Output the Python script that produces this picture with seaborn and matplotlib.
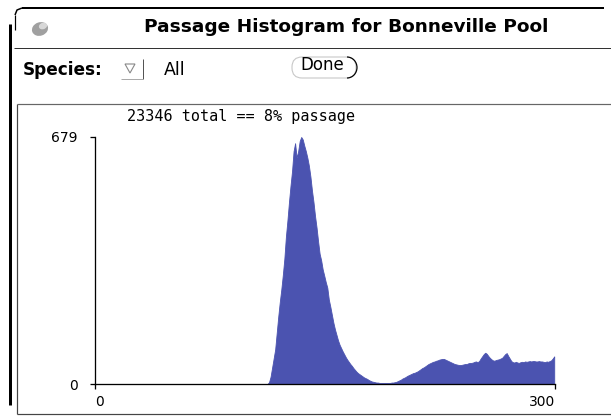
import numpy as np
import pandas as pd
import matplotlib
matplotlib.use("Agg")
import matplotlib.pyplot as plt
import seaborn as sns
from matplotlib.patches import FancyBboxPatch, Ellipse, Arc, Polygon

# ---- data -------------------------------------------------------------
TITLE = "Passage Histogram for Bonneville Pool"
SPECIES_LABEL = "Species:"
SPECIES = "All"
TOTAL_FISH = 23346
PASSAGE_PCT = 8
X_TICKS = [0, 300]
Y_TICKS = [0, 679]

# fish counts per day-bin (0..299); nothing passes before bin 113
EMPTY_BINS = [0] * 113
RUN_COUNTS = [
    5, 20, 45, 70, 95, 140, 185, 225, 260, 300,          # 113-122
    345, 405, 450, 500, 545, 585, 640, 662, 622, 640,    # 123-132
    668, 679, 672, 655, 640, 622, 600, 570, 532, 500,    # 133-142
    462, 430, 392, 358, 340, 315, 298, 280, 265, 232,    # 143-152
    212, 190, 168, 150, 135, 120, 108, 99, 90, 82,       # 153-162
    74, 67, 61, 55, 50, 44, 39, 34, 30, 27,              # 163-172
    24, 21, 18, 16, 14, 11, 9, 7, 6, 5,                  # 173-182
    4, 4, 3, 3, 3, 3, 3, 3, 3, 3,                        # 183-192
    4, 4, 5, 6, 8, 10, 12, 15, 17, 19,                   # 193-202
    22, 24, 26, 28, 30, 31, 33, 35, 38, 41,              # 203-212
    44, 46, 49, 52, 55, 57, 59, 61, 62, 64,              # 213-222
    65, 67, 68, 69, 69, 67, 65, 63, 61, 59,              # 223-232
    57, 55, 54, 53, 52, 52, 53, 54, 55, 55,              # 233-242
    57, 58, 58, 59, 61, 62, 60, 63, 70, 76,              # 243-252
    82, 86, 83, 77, 72, 68, 65, 64, 66, 67,              # 253-262
    68, 70, 72, 77, 82, 85, 77, 70, 63, 60,              # 263-272
    59, 61, 59, 58, 60, 61, 60, 62, 61, 62,              # 273-282
    63, 62, 63, 63, 62, 62, 63, 62, 62, 61,              # 283-292
    60, 62, 61, 63, 65, 70, 76,                          # 293-299
]
PASSAGE_COUNTS = EMPTY_BINS + RUN_COUNTS

BAR_COLOR = "#4b53b0"

# ---- figure -----------------------------------------------------------
sns.set_theme(style="ticks")
plt.rcParams["font.family"] = ["DejaVu Sans"]

W, H = 611, 417
PX = 72 / 100  # points per pixel at 100 dpi
fig = plt.figure(figsize=(W / 100, H / 100), dpi=100)
fig.patch.set_facecolor("white")

# window frame drawn in pixel coordinates
bg = fig.add_axes([0, 0, 1, 1], zorder=0)
bg.set_xlim(0, W)
bg.set_ylim(H, 0)
bg.axis("off")

def seg(xs, ys, color="black", lw=1.0):
    bg.plot(xs, ys, color=color, lw=lw * PX, solid_capstyle="butt")

seg([22, 604], [8, 8], lw=2)
seg([22, 17, 15], [8, 10, 15], lw=1.5)
seg([14.5, 14.5], [15, 30], lw=1.2)
seg([10, 10], [24, 405], lw=3)
seg([14, 611], [47.5, 47.5], color="#333333", lw=1)
seg([16.5, 16.5], [104, 413.5], color="#444444", lw=1.2)
seg([16.5, 611], [104, 104], color="#666666", lw=1.2)
seg([16.5, 611], [413.5, 413.5], color="#444444", lw=1.2)

# window menu icon
bg.add_patch(Ellipse((40, 29), 15, 12, angle=-20, color="#a0a0a0"))
bg.add_patch(Ellipse((43, 26), 7, 5, angle=-20, color="#d8d8d8"))

bg.text(346, 27, TITLE, ha="center", va="center", fontsize=13.3,
        fontweight="bold", color="black")

# species selector row
bg.text(23, 70, SPECIES_LABEL, ha="left", va="center", fontsize=12.2,
        fontweight="bold", color="black")
bg.add_patch(Polygon([[125, 64], [135, 64], [130, 73]], closed=True,
                     fill=False, edgecolor="#888888", lw=0.8))
seg([143, 143], [59, 79], color="#555555", lw=1)
seg([121, 143], [79, 79], color="#aaaaaa", lw=1)
bg.text(164, 70, SPECIES, ha="left", va="center", fontsize=12.5, color="black")

# Done button
bg.add_patch(FancyBboxPatch((292, 57), 64, 21, boxstyle="round,pad=0,rounding_size=10",
                            fill=False, edgecolor="#c8c8c8", lw=0.8))
bg.add_patch(Arc((347, 67.5), 20, 21, theta1=-90, theta2=90,
                 edgecolor="black", lw=1.2 * PX))
bg.text(322, 65, "Done", ha="center", va="center", fontsize=12, color="black")

bg.text(127, 116, f"{TOTAL_FISH} total == {PASSAGE_PCT}% passage",
        ha="left", va="center", fontsize=10.9, family="DejaVu Sans Mono",
        color="black")

# ---- histogram --------------------------------------------------------
ax = fig.add_axes([95 / W, (H - 384) / H, (555 - 95) / W, (384 - 137) / H], zorder=1)
ax.patch.set_alpha(0)

df = pd.DataFrame({
    "bin": np.arange(len(PASSAGE_COUNTS)) + 0.5,
    "count": PASSAGE_COUNTS,
})
sns.histplot(data=df, x="bin", weights="count", bins=len(PASSAGE_COUNTS),
             binrange=(0, len(PASSAGE_COUNTS)), element="poly", fill=True,
             color=BAR_COLOR, alpha=1, edgecolor=BAR_COLOR, linewidth=0.6,
             ax=ax)

ax.set_xlim(X_TICKS[0], X_TICKS[-1])
ax.set_ylim(Y_TICKS[0], Y_TICKS[-1])
ax.set_xlabel("")
ax.set_ylabel("")
ax.set_xticks(X_TICKS)
ax.set_yticks(Y_TICKS)
ax.set_xticklabels([str(v) for v in X_TICKS])
ax.set_yticklabels([str(v) for v in Y_TICKS])
xl = ax.get_xticklabels()
xl[0].set_ha("left")
xl[-1].set_ha("right")

sns.despine(ax=ax)
for side in ("left", "bottom"):
    ax.spines[side].set_color("black")
    ax.spines[side].set_linewidth(1.3 * PX)
    ax.spines[side].set_zorder(5)
ax.tick_params(axis="both", direction="out", length=5 * PX, width=1.3 * PX,
               color="black", labelsize=10, labelcolor="black")
ax.tick_params(axis="x", pad=6 * PX)
ax.tick_params(axis="y", pad=12 * PX)

fig.savefig("out.png", dpi=100)
